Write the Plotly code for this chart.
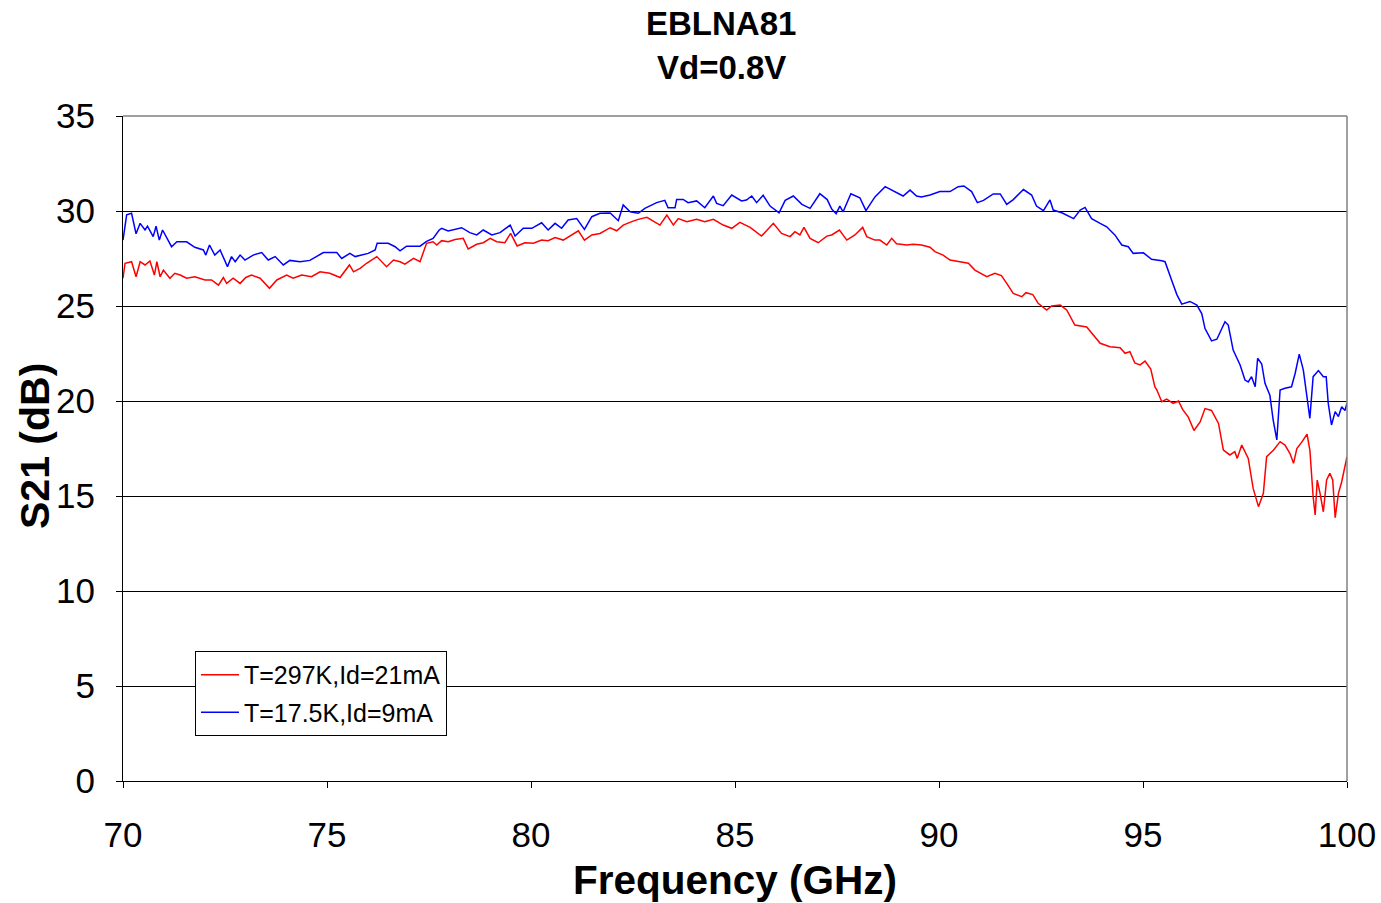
import plotly.graph_objects as go

# ---- data ----
freq_297K = [70.00, 70.05, 70.21, 70.32, 70.42, 70.54, 70.66, 70.77, 70.83, 70.91, 70.99, 71.15, 71.27, 71.40,
             71.56, 71.76, 72.01, 72.17, 72.34, 72.46, 72.54, 72.70, 72.87, 73.01, 73.15, 73.36, 73.59, 73.77,
             74.01, 74.17, 74.38, 74.62, 74.83, 75.07, 75.32, 75.55, 75.65, 75.81, 75.97, 76.22, 76.46, 76.63,
             76.79, 76.91, 77.12, 77.28, 77.44, 77.60, 77.69, 77.81, 77.97, 78.14, 78.34, 78.46, 78.67, 78.83,
             79.00, 79.16, 79.36, 79.50, 79.66, 79.85, 80.06, 80.26, 80.42, 80.59, 80.79, 81.00, 81.16, 81.31,
             81.49, 81.69, 81.94, 82.10, 82.26, 82.47, 82.63, 82.84, 83.04, 83.16, 83.33, 83.49, 83.61, 83.82,
             84.06, 84.26, 84.47, 84.71, 84.92, 85.12, 85.37, 85.65, 85.94, 86.14, 86.35, 86.47, 86.59, 86.69,
             86.84, 87.04, 87.25, 87.37, 87.56, 87.74, 87.94, 88.13, 88.23, 88.43, 88.55, 88.72, 88.84, 88.96,
             89.21, 89.37, 89.57, 89.78, 89.90, 90.10, 90.27, 90.51, 90.72, 90.88, 91.17, 91.37, 91.53, 91.66,
             91.82, 92.03, 92.13, 92.30, 92.43, 92.64, 92.76, 92.97, 93.13, 93.33, 93.62, 93.95, 94.19, 94.44,
             94.56, 94.68, 94.80, 94.93, 95.05, 95.19, 95.29, 95.34, 95.46, 95.58, 95.74, 95.87, 95.97, 96.11,
             96.25, 96.40, 96.52, 96.68, 96.85, 96.97, 97.13, 97.25, 97.31, 97.42, 97.58, 97.70, 97.83, 97.95,
             98.03, 98.20, 98.36, 98.48, 98.60, 98.69, 98.77, 98.90, 99.02, 99.09, 99.17, 99.22, 99.27, 99.34,
             99.42, 99.50, 99.58, 99.65, 99.71, 99.79, 99.87, 100.00]
s21_297K = [26.46, 27.25, 27.33, 26.54, 27.33, 27.16, 27.37, 26.63, 27.33, 26.54, 26.89, 26.46, 26.72, 26.63,
            26.46, 26.54, 26.37, 26.37, 26.10, 26.50, 26.19, 26.46, 26.19, 26.50, 26.63, 26.46, 25.93, 26.37,
            26.63, 26.46, 26.63, 26.54, 26.80, 26.72, 26.50, 27.16, 26.80, 26.98, 27.25, 27.60, 27.07, 27.42,
            27.33, 27.20, 27.51, 27.33, 28.30, 28.38, 28.21, 28.44, 28.38, 28.50, 28.56, 28.00, 28.25, 28.33,
            28.56, 28.38, 28.33, 28.82, 28.16, 28.33, 28.30, 28.47, 28.44, 28.60, 28.47, 28.74, 28.96, 28.47,
            28.74, 28.82, 29.12, 28.96, 29.26, 29.44, 29.56, 29.67, 29.44, 29.26, 29.79, 29.26, 29.60, 29.44,
            29.56, 29.44, 29.56, 29.26, 29.09, 29.40, 29.14, 28.68, 29.35, 28.82, 28.65, 28.91, 28.74, 29.14,
            28.56, 28.33, 28.68, 28.74, 29.00, 28.47, 28.74, 29.14, 28.65, 28.47, 28.47, 28.21, 28.56, 28.28,
            28.21, 28.25, 28.21, 28.09, 27.86, 27.68, 27.42, 27.33, 27.25, 26.89, 26.54, 26.72, 26.60, 26.19,
            25.66, 25.49, 25.70, 25.60, 25.14, 24.79, 25.00, 25.05, 24.79, 24.00, 23.90, 23.04, 22.86, 22.80,
            22.51, 22.60, 22.00, 21.90, 22.10, 21.68, 20.75, 20.58, 19.96, 20.10, 19.88, 20.00, 19.56, 19.15,
            18.45, 18.90, 19.60, 19.50, 18.82, 17.42, 17.16, 17.33, 16.98, 17.68, 16.98, 15.40, 14.44, 15.14,
            17.07, 17.42, 17.86, 17.68, 17.25, 16.72, 17.50, 17.86, 18.26, 17.42, 14.96, 14.00, 15.84, 15.14,
            14.17, 15.84, 16.19, 15.84, 13.86, 15.14, 15.75, 17.07]

freq_17K = [70.00, 70.09, 70.21, 70.32, 70.42, 70.54, 70.60, 70.74, 70.81, 70.89, 70.97, 71.19, 71.32, 71.56,
            71.76, 71.97, 72.03, 72.12, 72.25, 72.38, 72.56, 72.66, 72.75, 72.87, 72.99, 73.19, 73.40, 73.56,
            73.73, 73.93, 74.09, 74.34, 74.58, 74.91, 75.24, 75.36, 75.56, 75.69, 76.01, 76.18, 76.23, 76.50,
            76.67, 76.79, 76.95, 77.28, 77.44, 77.60, 77.75, 77.81, 77.97, 78.14, 78.30, 78.50, 78.67, 78.83,
            79.04, 79.24, 79.49, 79.61, 79.81, 80.02, 80.26, 80.42, 80.59, 80.75, 80.91, 81.12, 81.31, 81.49,
            81.69, 81.94, 82.14, 82.26, 82.43, 82.63, 82.79, 83.08, 83.28, 83.36, 83.53, 83.57, 83.73, 83.85,
            84.06, 84.26, 84.47, 84.55, 84.71, 84.92, 85.16, 85.28, 85.41, 85.53, 85.69, 85.86, 86.03, 86.08,
            86.23, 86.43, 86.64, 86.84, 87.08, 87.26, 87.37, 87.48, 87.57, 87.65, 87.84, 88.06, 88.21, 88.43,
            88.68, 88.84, 89.12, 89.29, 89.45, 89.57, 89.78, 90.02, 90.27, 90.47, 90.61, 90.80, 90.94, 91.09,
            91.33, 91.50, 91.66, 91.82, 92.07, 92.27, 92.39, 92.56, 92.72, 92.80, 93.01, 93.30, 93.46, 93.58,
            93.74, 93.95, 94.11, 94.31, 94.48, 94.64, 94.76, 95.01, 95.21, 95.46, 95.54, 95.70, 95.83, 95.95,
            96.15, 96.32, 96.44, 96.52, 96.68, 96.81, 97.01, 97.09, 97.21, 97.38, 97.50, 97.58, 97.66, 97.75,
            97.81, 97.91, 97.99, 98.11, 98.19, 98.28, 98.36, 98.48, 98.64, 98.73, 98.83, 98.93, 99.05, 99.09,
            99.17, 99.30, 99.42, 99.49, 99.54, 99.62, 99.71, 99.79, 99.87, 99.95, 100.00]
s21_17K = [28.47, 29.80, 29.88, 28.80, 29.35, 29.00, 29.20, 28.65, 29.20, 28.47, 29.00, 28.12, 28.38, 28.38,
           28.09, 27.95, 27.68, 28.21, 27.68, 27.95, 27.07, 27.60, 27.33, 27.68, 27.42, 27.68, 27.81, 27.42,
           27.60, 27.16, 27.40, 27.33, 27.40, 27.81, 27.81, 27.50, 27.77, 27.60, 27.77, 27.95, 28.30, 28.30,
           28.12, 27.90, 28.15, 28.15, 28.40, 28.56, 29.00, 29.09, 28.95, 29.04, 29.12, 28.86, 28.74, 29.00,
           28.74, 28.86, 29.26, 28.68, 29.09, 29.09, 29.38, 29.00, 29.35, 29.09, 29.53, 29.60, 29.03, 29.70,
           29.88, 29.90, 29.49, 30.32, 29.96, 29.88, 30.14, 30.44, 30.56, 30.17, 30.17, 30.61, 30.61, 30.44,
           30.53, 30.17, 30.79, 30.40, 30.28, 30.84, 30.53, 30.58, 30.79, 30.44, 30.83, 30.26, 29.96, 29.90,
           30.56, 30.79, 30.35, 30.14, 30.91, 30.60, 30.10, 29.86, 30.26, 29.96, 30.91, 30.70, 30.02, 30.74,
           31.28, 31.10, 30.79, 31.10, 30.79, 30.74, 30.84, 31.02, 31.02, 31.28, 31.32, 31.02, 30.44, 30.56,
           30.90, 30.90, 30.35, 30.60, 31.13, 30.84, 30.26, 30.02, 30.58, 30.05, 29.91, 29.60, 30.05, 30.19,
           29.60, 29.35, 29.17, 28.74, 28.21, 28.12, 27.77, 27.80, 27.46, 27.38, 27.33, 26.37, 25.60, 25.10,
           25.24, 25.05, 24.60, 23.81, 23.16, 23.25, 24.17, 24.00, 22.68, 21.90, 21.10, 21.00, 21.28, 20.75,
           22.25, 21.95, 20.93, 20.30, 19.00, 17.95, 20.58, 20.67, 20.75, 21.46, 22.47, 21.63, 19.70, 19.09,
           21.28, 21.60, 21.28, 21.28, 19.88, 18.74, 19.44, 19.18, 19.70, 19.50, 19.88]

series_names = ["T=297K,Id=21mA", "T=17.5K,Id=9mA"]
title_lines = ["EBLNA81", "Vd=0.8V"]
x_ticks = [70, 75, 80, 85, 90, 95, 100]
y_ticks = [0, 5, 10, 15, 20, 25, 30, 35]

FONT = "Arial, 'Liberation Sans', Helvetica, sans-serif"

fig = go.Figure()
fig.add_trace(go.Scatter(x=freq_297K, y=s21_297K, mode="lines", name=series_names[0],
                         legendgroup="a", line=dict(color="#FF0000", width=1.5)))
fig.add_trace(go.Scatter(x=freq_17K, y=s21_17K, mode="lines", name=series_names[1],
                         legendgroup="b", line=dict(color="#0000FF", width=1.5)))

fig.update_layout(
    width=1381, height=903,
    margin=dict(l=123, r=34, t=116, b=122, autoexpand=False),
    paper_bgcolor="white", plot_bgcolor="white",
    font=dict(family=FONT, color="black"),
    showlegend=True,
    legend=dict(x=0.0588, y=0.1955, xanchor="left", yanchor="top",
                bgcolor="white", bordercolor="black", borderwidth=1,
                font=dict(size=25, family=FONT, color="black"),
                itemwidth=38, tracegroupgap=2),
    xaxis=dict(range=[70, 100], tickvals=x_ticks, ticks="outside", ticklen=6, tickcolor="black",
               showgrid=False, zeroline=False, showline=True, linecolor="black", linewidth=1,
               tickfont=dict(size=35, family=FONT), ticklabelstandoff=17, fixedrange=True),
    yaxis=dict(range=[0, 35], tickvals=y_ticks, ticks="outside", ticklen=6, tickcolor="black",
               showgrid=True, gridcolor="black", gridwidth=1, zeroline=False,
               showline=True, linecolor="black", linewidth=1,
               tickfont=dict(size=35, family=FONT), ticklabelstandoff=14, fixedrange=True),
    annotations=[
        dict(text="<b>%s</b>" % title_lines[0], xref="paper", yref="paper", x=(721 - 123) / 1224,
             y=(781 - 24) / 665, xanchor="center", yanchor="middle", showarrow=False,
             font=dict(size=33, family=FONT, color="black")),
        dict(text="<b>%s</b>" % title_lines[1], xref="paper", yref="paper", x=(721 - 123) / 1224,
             y=(781 - 67) / 665, xanchor="center", yanchor="middle", showarrow=False,
             font=dict(size=33, family=FONT, color="black")),
        dict(text="<b>Frequency (GHz)</b>", xref="paper", yref="paper", x=0.5, y=(781 - 880) / 665,
             xanchor="center", yanchor="middle", showarrow=False,
             font=dict(size=40.5, family=FONT, color="black")),
        dict(text="<b>S21 (dB)</b>", xref="paper", yref="paper", x=(35 - 123) / 1224, y=(781 - 446) / 665,
             xanchor="center", yanchor="middle", textangle=-90, showarrow=False,
             font=dict(size=41, family=FONT, color="black")),
    ],
    shapes=[
        dict(type="line", xref="paper", yref="paper", x0=0, x1=1, y0=1, y1=1,
             line=dict(color="#808080", width=1.5), layer="above"),
        dict(type="line", xref="paper", yref="paper", x0=1, x1=1, y0=0, y1=1,
             line=dict(color="#808080", width=1.5), layer="above"),
    ],
)

fig.write_html("out.html")
